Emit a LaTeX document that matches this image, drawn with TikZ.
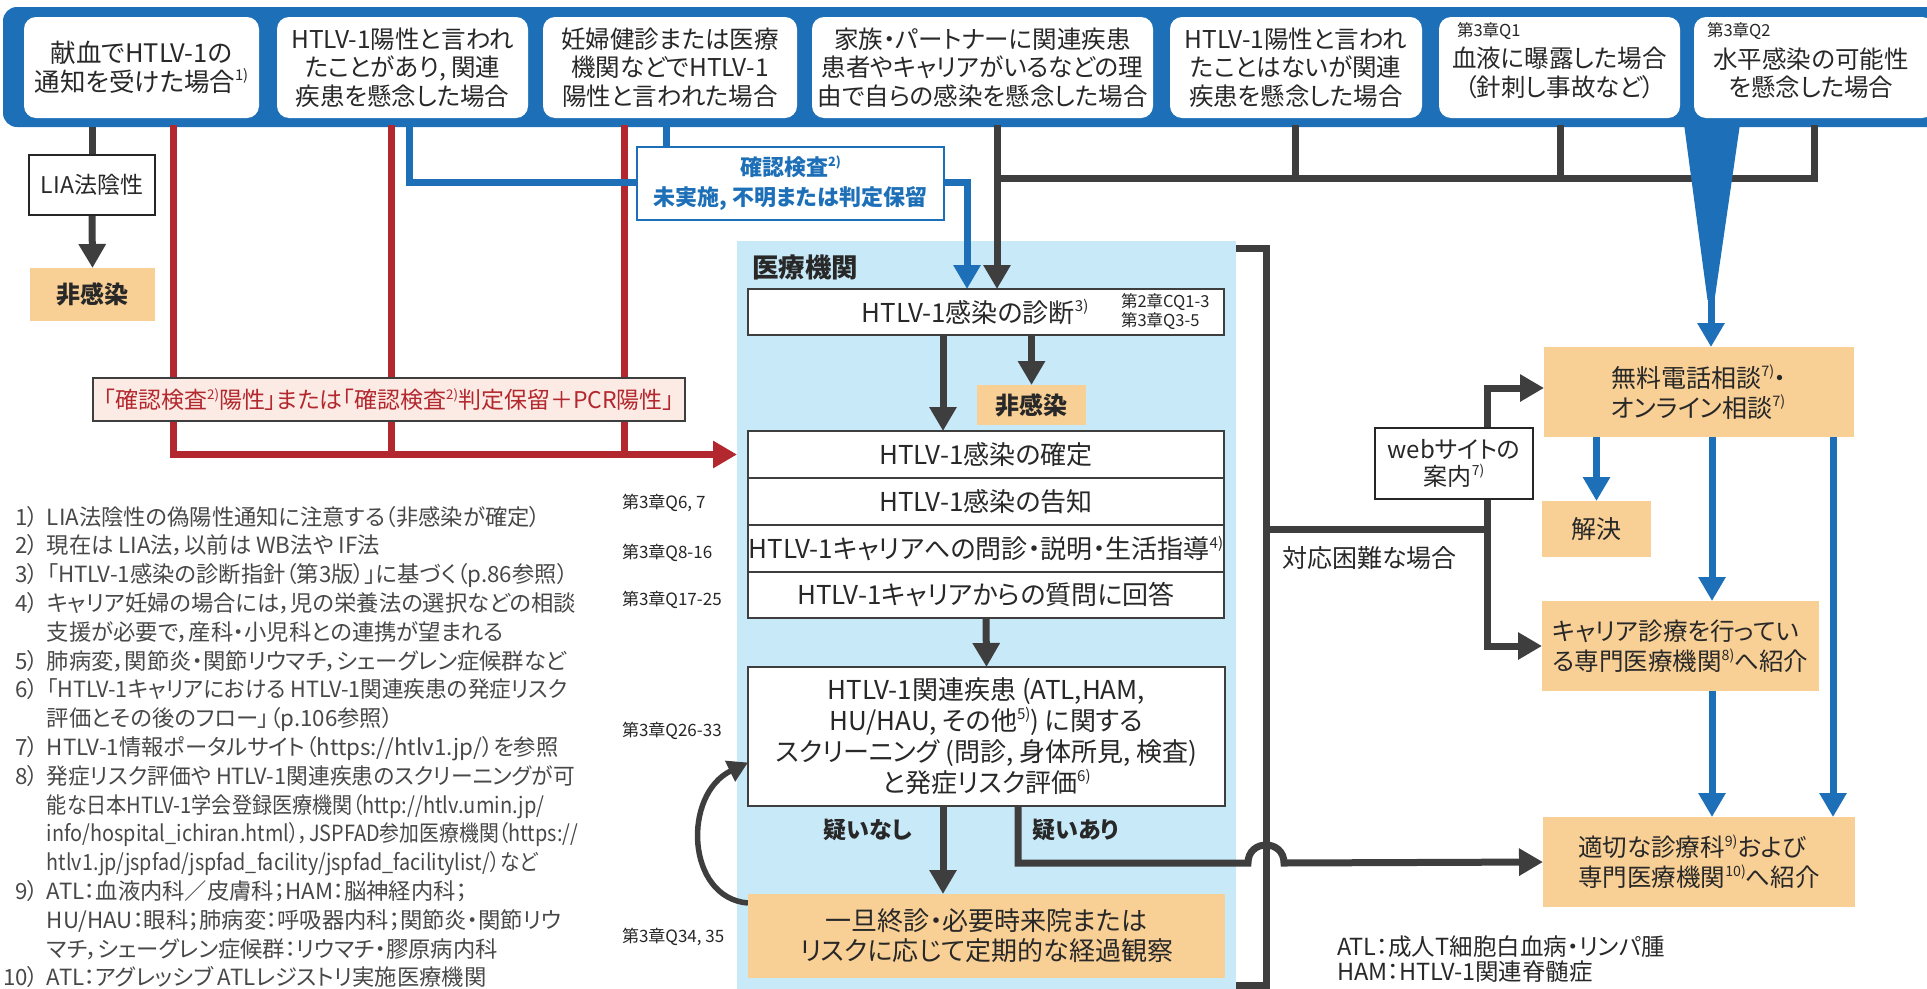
\documentclass[tikz,border=0pt]{standalone}
\usepackage{fontspec}
\usepackage{graphicx}
\setmainfont{Noto Sans CJK JP}[RawFeature=+palt]
\usetikzlibrary{arrows.meta}
\definecolor{bandblue}{RGB}{29,112,183}
\definecolor{dk}{RGB}{62,62,62}
\definecolor{rd}{RGB}{179,40,46}
\definecolor{medbg}{RGB}{199,233,248}
\definecolor{org}{RGB}{248,207,149}
\definecolor{pk}{RGB}{252,235,229}
\definecolor{txt}{RGB}{40,40,40}
\definecolor{ntxt}{RGB}{72,72,72}
\newcommand{\supr}[1]{\raisebox{0.42em}{\scalebox{0.58}{#1}}}
\newcommand{\fsz}[2]{\fontsize{#1}{#2}\selectfont}
\newcommand{\sqz}[2]{\scalebox{#1}[1]{#2}}
\pgfdeclarelayer{bg}
\pgfdeclarelayer{ln}
\pgfsetlayers{bg,ln,main}
\begin{document}
\begin{tikzpicture}[x=1pt,y=-1pt,
  every node/.style={text=txt, inner sep=0pt, outer sep=0pt},
  topbox/.style={fill=white, rounded corners=12pt, align=center, font=\fsz{24.5}{28.5}},
  wbox/.style={draw=dk, line width=1.6pt, fill=white, align=center, font=\fsz{26}{30}},
  obox/.style={fill=org, align=center, font=\fsz{25}{30}},
  dline/.style={draw=dk, line width=7pt},
  rline/.style={draw=rd, line width=7pt},
  bline/.style={draw=bandblue, line width=7pt},
  arr/.style={-{Triangle[width=26pt,length=24pt]}},
  small/.style={font=\fsz{16.5}{19.5}, text=black!85},
  side/.style={font=\fsz{17}{20}, text=black!85, anchor=west},
]
\useasboundingbox (0,0) rectangle (1927,988);

\begin{pgfonlayer}{bg}
\node[fill=medbg, minimum width=499, minimum height=760, anchor=north west] (med) at (737,241) {};
\node[fill=bandblue, rounded corners=14pt, minimum width=1950, minimum height=120, anchor=north west] (band) at (3,7) {};
\end{pgfonlayer}

% ---- top boxes
\node[topbox, minimum width=235, minimum height=101, font=\fsz{25.5}{28.5}] (t1) at (141.5,67.5) {献血でHTLV-1の\\通知を受けた場合\supr{1)}};
\node[topbox, minimum width=251, minimum height=101] (t2) at (402.5,67.5) {HTLV-1陽性と言われ\\たことがあり, 関連\\疾患を懸念した場合};
\node[topbox, minimum width=254, minimum height=101] (t3) at (670,67.5) {妊婦健診または医療\\機関などでHTLV-1\\陽性と言われた場合};
\node[topbox, minimum width=341, minimum height=101] (t4) at (982.5,67.5) {家族・パートナーに関連疾患\\患者やキャリアがいるなどの理\\由で自らの感染を懸念した場合};
\node[topbox, minimum width=252, minimum height=101] (t5) at (1296,67.5) {HTLV-1陽性と言われ\\たことはないが関連\\疾患を懸念した場合};
\node[topbox, minimum width=241, minimum height=101] (t6) at (1559.5,67.5) {};
\node[font=\fsz{24.5}{28.5}, align=center] (t6t) at (1559.5,73) {血液に曝露した場合\\（針刺し事故など）};
\node[small, anchor=west] (t6q) at (1457,31) {第3章Q1};
\node[topbox, minimum width=240, minimum height=101] (t7) at (1814,67.5) {};
\node[font=\fsz{24.5}{28.5}, align=center] (t7t) at (1811,73) {水平感染の可能性\\を懸念した場合};
\node[small, anchor=west] (t7q) at (1707,31) {第3章Q2};

% ---- left side
\node[wbox, line width=2.4pt, draw=black!85, minimum width=126, minimum height=60, font=\fsz{23}{26}] (lia) at (92,185) {LIA法陰性};
\node[obox, minimum width=125, minimum height=53, font=\bfseries\fsz{24}{28}] (nl) at (92.5,294.5) {非感染};
\node[draw=dk, line width=1.2pt, fill=pk, minimum width=592, minimum height=43, text=rd, font=\fsz{23}{26}] (redlabel) at (389,399.5) {「確認検査\supr{2)}陽性」または「確認検査\supr{2)}判定保留＋PCR陽性」};
\node[draw=bandblue, line width=2.5pt, fill=white, minimum width=307, minimum height=73, text=bandblue, font=\bfseries\fsz{22}{30}, align=center] (kakunin) at (790.5,183.5) {確認検査\supr{2)}\\未実施, 不明または判定保留};

% ---- medical institution
\node[anchor=west, font=\bfseries\fsz{26.5}{28}] (medlabel) at (752,267) {医療機関};
\node[wbox, minimum width=476, minimum height=46] (diag) at (986,312) {};
\node[font=\fsz{26}{30}] (diagtxt) at (975,312) {HTLV-1感染の診断\supr{3)}};
\node[small, align=left, anchor=west] (diagref) at (1121,311.5) {第2章CQ1-3\\第3章Q3-5};
\node[obox, minimum width=109, minimum height=40, font=\bfseries\fsz{24}{28}] (ni) at (1031.5,405) {非感染};
\node[wbox, minimum width=476, minimum height=47] (kakutei) at (986,454.5) {HTLV-1感染の確定};
\node[wbox, minimum width=476, minimum height=47] (kokuchi) at (986,501.5) {HTLV-1感染の告知};
\node[wbox, minimum width=476, minimum height=47] (monshin) at (986,548.5) {HTLV-1キャリアへの問診・説明・生活指導\supr{4)}};
\node[wbox, minimum width=476, minimum height=46] (kaito) at (986,595) {HTLV-1キャリアからの質問に回答};
\node[wbox, minimum width=477, minimum height=139, font=\fsz{26}{31}] (scr) at (986.5,736.5) {HTLV-1関連疾患 (ATL,HAM,\\HU/HAU, その他\supr{5)}) に関する\\スクリーニング (問診, 身体所見, 検査)\\と発症リスク評価\supr{6)}};
\node[font=\bfseries\fsz{23}{26}] (nashi) at (868,830) {疑いなし};
\node[font=\bfseries\fsz{23}{26}] (ari) at (1076,830) {疑いあり};
\node[obox, minimum width=477, minimum height=84, font=\fsz{26}{30}] (ichitan) at (986.5,936) {一旦終診・必要時来院または\\リスクに応じて定期的な経過観察};

\node[side] (q67) at (622,503) {第3章Q6, 7};
\node[side] (q816) at (622,553) {第3章Q8-16};
\node[side] (q1725) at (622,600) {第3章Q17-25};
\node[side] (q2633) at (622,731) {第3章Q26-33};
\node[side] (q3435) at (622,937) {第3章Q34, 35};

% ---- right side
\node[wbox, line width=2.6pt, draw=black!85, minimum width=158, minimum height=71, font=\fsz{24}{27}] (web) at (1454,463.5) {webサイトの\\案内\supr{7)}};
\node[anchor=west, font=\fsz{25}{28}] (konnan) at (1282,558) {対応困難な場合};
\node[obox, minimum width=310, minimum height=90, align=left] (muryo) at (1699,392) {無料電話相談\supr{7)}・\\オンライン相談\supr{7)}};
\node[obox, minimum width=109, minimum height=56] (kaiketsu) at (1596.5,529) {解決};
\node[obox, minimum width=277, minimum height=90, align=left, font=\fsz{24.5}{30}] (carrier) at (1680.5,646) {キャリア診療を行ってい\\る専門医療機関\supr{8)}へ紹介};
\node[obox, minimum width=312, minimum height=90, align=left, font=\fsz{24.5}{30}] (tekisetsu) at (1699,862) {適切な診療科\supr{9)}および\\専門医療機関\supr{10)}へ紹介};
\node[anchor=base west, align=left, font=\fsz{23.5}{25}] (abbr) at (1337,980) {ATL：成人T細胞白血病・リンパ腫\\HAM：HTLV-1関連脊髄症};

% ---- footnotes
\node[anchor=base west, font=\fsz{22.3}{28.8}, text=ntxt] (notes) at (3,525) {%
\begin{tabular}[t]{@{}r@{\hspace{8pt}}l@{}}
1）& LIA法陰性の偽陽性通知に注意する（非感染が確定）\\
2）& 現在は LIA法，以前は WB法や IF法\\
3）& 「HTLV-1感染の診断指針（第3版）」に基づく（p.86参照）\\
4）& キャリア妊婦の場合には，児の栄養法の選択などの相談\\
   & 支援が必要で，産科・小児科との連携が望まれる\\
5）& 肺病変，関節炎・関節リウマチ，シェーグレン症候群など\\
6）& \sqz{0.97}{「HTLV-1キャリアにおける HTLV-1関連疾患の発症リスク}\\
   & 評価とその後のフロー」（p.106参照）\\
7）& HTLV-1情報ポータルサイト（https://htlv1.jp/）を参照\\
8）& \sqz{0.975}{発症リスク評価や HTLV-1関連疾患のスクリーニングが可}\\
   & \sqz{0.9}{能な日本HTLV-1学会登録医療機関（http://htlv.umin.jp/}\\
   & \sqz{0.89}{info/hospital\_ichiran.html），JSPFAD参加医療機関（https://}\\
   & \sqz{0.885}{htlv1.jp/jspfad/jspfad\_facility/jspfad\_facilitylist/）など}\\
9）& ATL：血液内科／皮膚科；HAM：脳神経内科；\\
   & HU/HAU：眼科；肺病変：呼吸器内科；関節炎・関節リウ\\
   & マチ，シェーグレン症候群：リウマチ・膠原病内科\\
10）& ATL：アグレッシブ ATLレジストリ実施医療機関
\end{tabular}};

% ---- connectors
\coordinate (bx) at (967,182);
\coordinate (dx) at (997,178);
\coordinate (wd) at (1711,296);
\coordinate (wv) at (1487,529);
\coordinate (hop) at (1266,863);
\begin{pgfonlayer}{ln}
% left
\draw[dline] (lia.north |- band.south) -- (lia.north);
\draw[dline, arr] (lia.south) -- (nl.north);
% red
\draw[rline, arr] (173,125) |- (med.west |- kakutei.west);
\draw[rline] (391,125) -- (391,454.5);
\draw[rline] (624,125) -- (624,454.5);
% blue
\draw[bline, arr] (409,125) |- (bx) -- (bx |- diag.north);
\draw[bline] (666,125) -- (666,150);
% dark from right top boxes
\draw[dline, arr] (997,125) -- (dx) -- (dx |- diag.north);
\draw[dline] (dx) -| (1814,125);
\draw[dline] (1295,125) -- (1295,178);
\draw[dline] (1560,125) -- (1560,178);
% inside med
\draw[dline, arr] ([xshift=-43pt]diag.south) -- ([xshift=-43pt]kakutei.north);
\draw[dline, arr] (ni.north |- diag.south) -- (ni.north);
\draw[dline, arr] (kaito.south) -- (scr.north);
\draw[dline, arr] ([xshift=-43.5pt]scr.south) -- ([xshift=-43.5pt]ichitan.north);
\draw[draw=dk, line width=5.5pt, -{Triangle[width=22pt,length=20pt]}] ([yshift=33pt]ichitan.west) .. controls +(-62,-5) and +(-66,32) .. ([yshift=-26pt]scr.west);
% bracket
\draw[dline] (1236,248) -| (1266,985) -- (1236,985);
% difficult branch
\draw[dline] (1266,529) -- (wv);
\draw[dline, arr] (wv) |- ([yshift=4pt]muryo.west);
\draw[dline, arr] (wv) |- (carrier.west);
% suspected
\draw[dline, arr] ([xshift=31.5pt]scr.south) |- ([xshift=-18pt]hop) .. controls ([xshift=-18pt,yshift=24pt]hop) and ([xshift=18pt,yshift=24pt]hop) .. ([xshift=18pt]hop) -- (tekisetsu.west);
% blue right
\draw[bline, arr] (kaiketsu.north |- muryo.south) -- (kaiketsu.north);
\draw[bline, arr] ([xshift=13pt]muryo.south) -- ([xshift=31.5pt]carrier.north);
\draw[bline, arr] ([xshift=31.5pt]carrier.south) -- ([xshift=13pt]tekisetsu.north);
\draw[bline, arr] ([xshift=134pt]muryo.south) -- ([xshift=134pt]tekisetsu.north);
\end{pgfonlayer}

% wedge arrow from top box 7
\fill[bandblue] (1684,124) -- (1740,124) -- (1714.5,300) -- (1707.5,300) -- cycle;
\draw[bline, arr] (wd) -- (wd |- muryo.north);
\end{tikzpicture}
\end{document}
